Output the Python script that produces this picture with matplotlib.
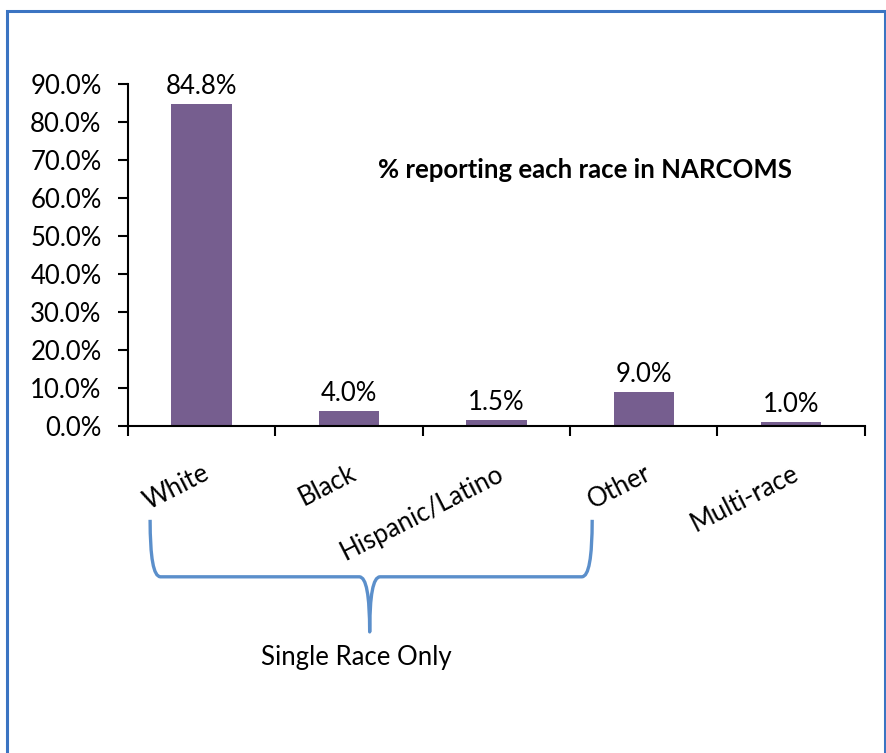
import numpy as np
import matplotlib
matplotlib.use('Agg')
import matplotlib.pyplot as plt
from matplotlib.path import Path
from matplotlib.patches import PathPatch, Rectangle

plt.rcParams['font.family'] = ['Lato', 'DejaVu Sans']

races = ['White', 'Black', 'Hispanic/Latino', 'Other', 'Multi-race']
pct = [84.8, 4.0, 1.5, 9.0, 1.0]
yticks = [0, 10, 20, 30, 40, 50, 60, 70, 80, 90]
title = '% reporting each race in NARCOMS'
brace_label = 'Single Race Only'

fs = 18.5
fig = plt.figure(figsize=(8.87, 7.53), dpi=100)
ax = fig.add_axes([0.1443, 0.4343, 0.8307, 0.4541])

x = np.arange(len(races))
ax.bar(x, pct, width=0.41, color='#765E8F')
for xi, v in zip(x, pct):
    ax.text(xi, v + 1.3, '%.1f%%' % v, ha='center', va='bottom', fontsize=fs)

ax.set_xlim(-0.5, len(races) - 0.5)
ax.set_ylim(0, 90)
ax.set_yticks(yticks)
ax.set_yticklabels(['%.1f%%' % t for t in yticks])
ax.tick_params(axis='y', labelsize=fs, length=7, width=1.5, pad=12, direction='out')

# ticks at category boundaries, labels at centers
ax.set_xticks(np.arange(len(races) + 1) - 0.5)
ax.set_xticklabels([])
ax.tick_params(axis='x', which='major', length=7, width=1.5, direction='out')
ax.set_xticks(x, minor=True)
ax.set_xticklabels(races, minor=True, rotation=27, ha='right',
                   rotation_mode='anchor', fontsize=fs)
ax.tick_params(axis='x', which='minor', length=0, pad=25)

for s in ['top', 'right']:
    ax.spines[s].set_visible(False)
for s in ['left', 'bottom']:
    ax.spines[s].set_linewidth(1.5)

ax.text(2.6, 67.5, title, ha='center', va='center', fontsize=fs, fontweight='bold')

# curly brace under the single race categories
bx0, bx1, btip = -0.35, 2.65, 1.14
ytop, ymid, ybot = -24.7, -39.7, -54.2
r = 0.07
verts = [(bx0, ytop),
         (bx0, ymid), (bx0 + r, ymid),
         (btip - r, ymid),
         (btip, ymid), (btip, ybot),
         (btip, ymid), (btip + r, ymid),
         (bx1 - r, ymid),
         (bx1, ymid), (bx1, ytop)]
codes = [Path.MOVETO,
         Path.CURVE3, Path.CURVE3,
         Path.LINETO,
         Path.CURVE3, Path.CURVE3,
         Path.CURVE3, Path.CURVE3,
         Path.LINETO,
         Path.CURVE3, Path.CURVE3]
ax.add_patch(PathPatch(Path(verts, codes), fill=False, edgecolor='#5B8FCB',
                       linewidth=2.4, clip_on=False, joinstyle='round'))
ax.text(1.05, -61, brace_label, ha='center', va='center', fontsize=fs)

fig.add_artist(Rectangle((7 / 887, -0.05), 878 / 887, 1.05 - 11 / 753,
                         transform=fig.transFigure, fill=False,
                         edgecolor='#3B74C2', linewidth=2.2))

fig.savefig('out.png', dpi=100)
